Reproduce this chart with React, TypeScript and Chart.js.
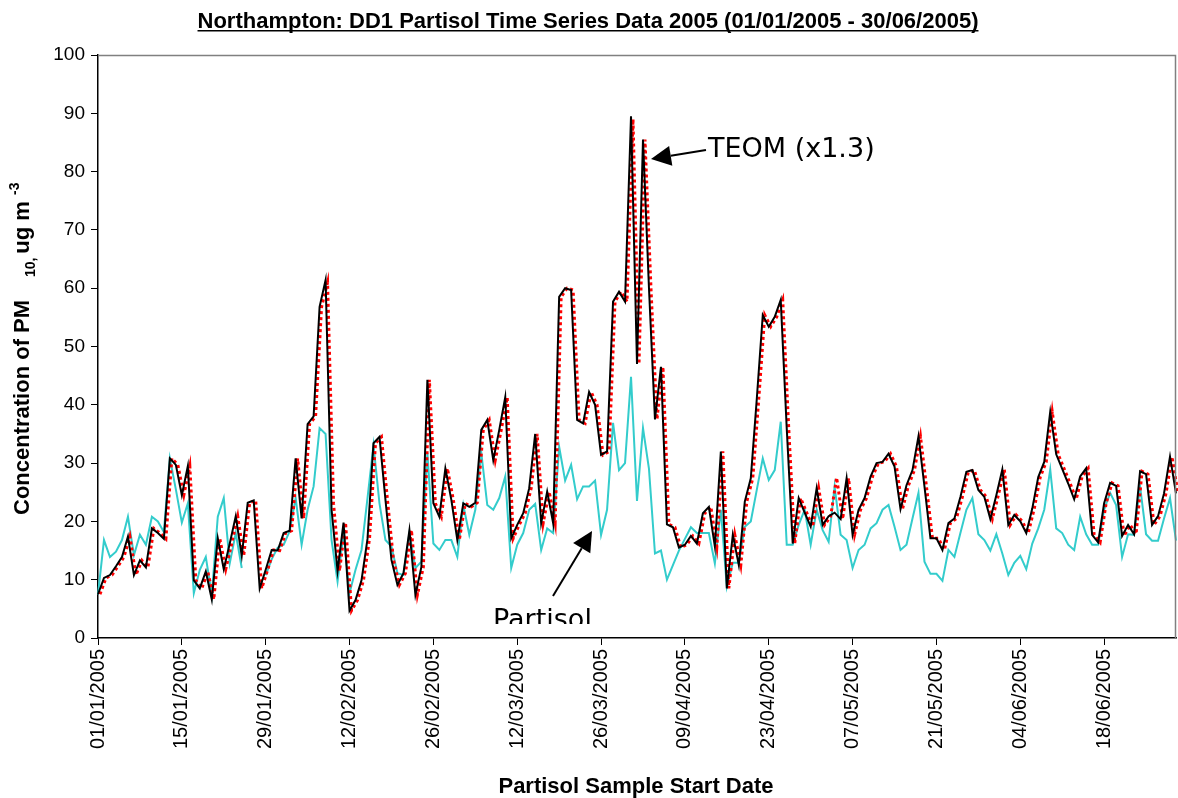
import React, { useEffect, useRef } from "react";
import { Chart, registerables } from "chart.js";

Chart.register(...registerables);

const W = 1178;
const H = 798;

const TITLE = "Northampton: DD1 Partisol Time Series Data 2005 (01/01/2005 - 30/06/2005)";
const X_TITLE = "Partisol Sample Start Date";

const START_DAY = "2005-01-01";
const DAY_COUNT = 181;

const tickLabels = [
  "01/01/2005", "15/01/2005", "29/01/2005", "12/02/2005", "26/02/2005",
  "12/03/2005", "26/03/2005", "09/04/2005", "23/04/2005", "07/05/2005",
  "21/05/2005", "04/06/2005", "18/06/2005",
];

const yTicks = [0, 10, 20, 30, 40, 50, 60, 70, 80, 90, 100];

// TEOM (x1.3) - black solid
const teom = [
  7.5, 10.3, 10.8, 12.3, 13.9, 17.4, 10.8, 13.3, 12.1, 18.8,
  18.0, 17.0, 30.8, 29.7, 24.5, 29.5, 9.9, 8.5, 11.4, 6.6,
  17.1, 11.8, 16.2, 20.9, 14.1, 23.2, 23.6, 8.5, 11.7, 15.1,
  15.0, 18.0, 18.4, 30.8, 20.5, 36.7, 38.0, 56.8, 61.4, 22.0,
  11.5, 19.8, 4.7, 6.5, 9.9, 17.0, 33.4, 34.5, 23.7, 13.4,
  9.1, 11.1, 18.5, 7.4, 12.2, 44.3, 23.1, 20.8, 29.1, 23.7,
  16.8, 23.1, 22.5, 23.2, 35.7, 37.4, 30.5, 35.7, 41.3, 17.1,
  19.4, 21.4, 25.7, 35.0, 19.7, 25.1, 19.7, 58.5, 60.0, 59.7,
  37.4, 36.8, 42.2, 40.0, 31.4, 32.0, 57.7, 59.4, 57.7, 89.5,
  47.0, 85.5, 60.0, 37.5, 46.5, 19.5, 19.0, 15.5, 16.0, 17.5,
  16.2, 21.4, 22.5, 15.7, 32.0, 8.5, 17.7, 12.5, 23.4, 27.4,
  41.0, 55.4, 53.4, 55.1, 58.0, 36.0, 16.2, 24.0, 21.5, 19.1,
  25.7, 19.4, 20.9, 21.5, 20.4, 27.4, 17.7, 22.0, 24.0, 27.7,
  30.0, 30.2, 31.6, 29.4, 22.1, 26.2, 28.8, 34.6, 26.0, 17.1,
  17.1, 15.1, 19.7, 20.5, 24.2, 28.5, 28.8, 25.4, 24.2, 20.4,
  24.5, 28.9, 19.4, 21.1, 20.0, 18.0, 22.2, 27.6, 30.2, 38.8,
  31.5, 29.0, 26.5, 23.8, 27.7, 29.1, 17.7, 16.4, 23.1, 26.6,
  26.1, 17.5, 19.4, 17.8, 28.6, 28.1, 19.4, 20.9, 24.8, 31.1,
  24.8,
];

// second TEOM trace - red dotted
const teomAlt = [
  7.5, 10.3, 10.8, 12.3, 13.9, 17.4, 10.8, 13.3, 12.1, 18.8,
  18.0, 17.0, 30.8, 29.7, 24.5, 29.5, 9.9, 8.5, 11.4, 6.6,
  17.1, 11.8, 16.2, 20.9, 14.1, 23.2, 23.6, 8.5, 11.7, 15.1,
  15.0, 18.0, 18.4, 30.8, 20.5, 36.7, 38.0, 56.8, 61.0, 23.0,
  11.5, 19.8, 4.7, 6.5, 9.9, 17.0, 33.4, 34.5, 23.7, 13.4,
  9.1, 11.1, 18.5, 7.4, 12.2, 44.3, 23.1, 20.8, 29.1, 23.7,
  16.8, 23.1, 22.5, 23.2, 35.7, 37.4, 30.5, 35.7, 41.3, 17.1,
  19.4, 21.4, 25.7, 35.0, 19.7, 25.1, 19.7, 58.5, 60.0, 59.7,
  37.4, 36.8, 42.2, 40.0, 31.4, 32.0, 57.7, 59.4, 57.7, 89.0,
  47.0, 85.5, 60.0, 37.5, 46.5, 19.5, 19.0, 15.5, 16.0, 17.5,
  16.2, 21.4, 22.5, 15.7, 32.0, 8.5, 17.7, 12.5, 23.4, 27.4,
  41.0, 55.4, 53.4, 55.1, 58.0, 36.0, 16.2, 24.0, 21.5, 19.1,
  25.7, 19.4, 20.9, 27.5, 20.4, 27.4, 17.7, 22.0, 24.0, 27.7,
  30.0, 30.2, 31.6, 29.4, 22.1, 26.2, 28.8, 34.6, 26.0, 17.1,
  17.1, 15.1, 19.7, 20.5, 24.2, 28.5, 28.8, 25.4, 24.2, 20.4,
  24.5, 28.9, 19.4, 21.1, 20.0, 18.0, 22.2, 27.6, 30.2, 38.8,
  31.5, 29.0, 26.5, 23.8, 27.7, 29.1, 17.7, 16.4, 23.1, 26.6,
  26.1, 17.5, 19.4, 17.8, 28.6, 28.1, 19.4, 20.9, 24.8, 31.1,
  24.8,
];

// Partisol - cyan
const partisol = [
  7.5, 16.8, 13.9, 14.8, 16.8, 20.8, 14.2, 17.7, 16.0, 20.8,
  20.0, 18.2, 30.8, 25.5, 19.8, 23.1, 7.7, 11.7, 13.9, 7.4,
  20.8, 24.0, 12.8, 18.0, 12.0, null, null, null, 10.8, 13.5,
  15.5, 16.0, 18.3, 24.0, 16.0, 22.0, 26.0, 36.0, 35.0, 16.8,
  9.7, 18.0, 7.7, 11.7, 15.1, 24.0, 33.1, 23.1, 16.8, 15.7,
  11.1, 10.8, 18.0, 12.0, 13.1, 31.7, 16.2, 15.1, 16.8, 16.8,
  13.9, 22.8, 17.7, 22.0, 31.8, 22.8, 22.0, 24.0, 27.7, 12.0,
  16.0, 18.0, 22.0, 23.0, 15.1, 18.8, 18.0, 32.8, 27.0, 29.7,
  23.8, 26.0, 26.0, 27.0, 17.7, 22.0, 36.9, 28.8, 30.0, 44.8,
  23.5, 36.0, 29.0, 14.5, 15.0, 10.0, 12.5, 15.0, 17.0, 19.0,
  18.0, 18.0, 18.0, 12.8, 22.0, 8.8, 12.9, 12.9, 19.1, 20.0,
  25.4, 30.8, 27.1, 28.8, 37.1, 16.0, 16.0, 19.4, 22.0, 16.0,
  22.0, 18.5, 16.5, 26.0, 17.7, 16.8, 12.0, 15.1, 16.0, 18.8,
  19.7, 22.0, 22.8, 19.1, 15.1, 16.0, 20.5, 24.9, 13.1, 11.0,
  11.0, 9.8, 15.1, 13.9, 18.0, 22.0, 24.0, 17.8, 16.8, 15.0,
  17.8, 14.5, 10.8, 12.9, 14.1, 11.8, 16.2, 18.8, 22.0, 28.9,
  18.8, 18.0, 16.0, 15.1, 20.8, 17.8, 16.0, 16.0, 22.0, 24.9,
  22.8, 13.9, 17.8, 17.7, 26.0, 17.8, 16.7, 16.7, 20.5, 24.0,
  16.7,
];

function pad2(n: number) {
  return n < 10 ? "0" + n : String(n);
}

function buildCategories(): string[] {
  const out: string[] = [];
  const base = new Date(START_DAY + "T00:00:00Z");
  for (let i = 0; i < DAY_COUNT; i++) {
    const d = new Date(base.getTime() + i * 86400000);
    out.push(pad2(d.getUTCDate()) + "/" + pad2(d.getUTCMonth() + 1) + "/" + d.getUTCFullYear());
  }
  return out;
}

const categories = buildCategories();
const tickSet = new Set(tickLabels);

const SANS = '"Liberation Sans", Arial, Helvetica, sans-serif';
const ANNO = '"DejaVu Sans", Verdana, sans-serif';

function drawArrow(ctx: CanvasRenderingContext2D, x1: number, y1: number, x2: number, y2: number, headLen: number, headHalf: number) {
  const ang = Math.atan2(y2 - y1, x2 - x1);
  const bx = x2 - headLen * Math.cos(ang);
  const by = y2 - headLen * Math.sin(ang);
  ctx.beginPath();
  ctx.moveTo(x1, y1);
  ctx.lineTo(bx, by);
  ctx.lineWidth = 2;
  ctx.strokeStyle = "#000";
  ctx.stroke();
  ctx.beginPath();
  ctx.moveTo(x2, y2);
  ctx.lineTo(bx + headHalf * Math.sin(ang), by - headHalf * Math.cos(ang));
  ctx.lineTo(bx - headHalf * Math.sin(ang), by + headHalf * Math.cos(ang));
  ctx.closePath();
  ctx.fillStyle = "#000";
  ctx.fill();
}

// the red trace sits a hair to the right of the black one in the original
const lagPlugin = {
  id: "lag",
  beforeDatasetDraw(chart: any, args: any) {
    if (args.index === 1) {
      chart.ctx.save();
      chart.ctx.translate(2, 0);
    }
  },
  afterDatasetDraw(chart: any, args: any) {
    if (args.index === 1) chart.ctx.restore();
  },
};

const decorPlugin = {
  id: "decor",
  afterDraw(chart: any) {
    const ctx: CanvasRenderingContext2D = chart.ctx;
    const { left, right, top, bottom } = chart.chartArea;
    ctx.save();

    // plot area border (top / right)
    ctx.strokeStyle = "#808080";
    ctx.lineWidth = 1.5;
    ctx.beginPath();
    ctx.moveTo(left, top + 0.5);
    ctx.lineTo(right - 0.5, top + 0.5);
    ctx.lineTo(right - 0.5, bottom);
    ctx.stroke();

    // title, underlined
    ctx.fillStyle = "#000";
    ctx.font = "bold 22px " + SANS;
    ctx.textAlign = "center";
    ctx.textBaseline = "alphabetic";
    const tx = 588;
    const ty = 28;
    ctx.fillText(TITLE, tx, ty);
    const tw = ctx.measureText(TITLE).width;
    ctx.fillRect(tx - tw / 2, ty + 2, tw, 1.5);

    // x axis title
    ctx.font = "bold 22px " + SANS;
    ctx.fillText(X_TITLE, 636, 793);

    // y axis title with sub/superscript
    ctx.save();
    ctx.translate(29, 0);
    ctx.rotate(-Math.PI / 2);
    ctx.textAlign = "left";
    let pos = -515;
    ctx.font = "bold 22px " + SANS;
    ctx.fillText("Concentration of PM", pos, 0);
    pos = -277;
    ctx.font = "bold 14px " + SANS;
    ctx.fillText("10,", pos, 6);
    pos += ctx.measureText("10, ").width;
    ctx.font = "bold 22px " + SANS;
    ctx.fillText("ug m", pos, 0);
    pos += ctx.measureText("ug m ").width;
    ctx.font = "bold 14px " + SANS;
    ctx.fillText("-3", pos, -10);
    ctx.restore();

    // TEOM annotation
    ctx.font = "27px " + ANNO;
    ctx.textAlign = "left";
    ctx.fillStyle = "#000";
    ctx.fillText("TEOM (x1.3)", 708, 157);
    drawArrow(ctx, 706, 150, 651, 159, 20, 10);

    // Partisol annotation (clipped at the bottom)
    ctx.save();
    ctx.beginPath();
    ctx.rect(0, 0, W, 624);
    ctx.clip();
    ctx.font = "27px " + ANNO;
    ctx.fillText("Partisol", 493, 628);
    ctx.restore();
    drawArrow(ctx, 553, 596, 592, 531, 20, 10);

    ctx.restore();
  },
};

export default function App() {
  const canvasRef = useRef<HTMLCanvasElement | null>(null);

  useEffect(() => {
    document.body.style.margin = "0";
    const canvas = canvasRef.current;
    if (!canvas) return;
    const chart = new Chart(canvas, {
      type: "line",
      data: {
        labels: categories,
        datasets: [
          {
            label: "TEOM (x1.3)",
            data: teom,
            borderColor: "#000000",
            borderWidth: 2,
            pointRadius: 0,
            tension: 0,
            spanGaps: false,
          },
          {
            label: "TEOM (alt)",
            data: teomAlt,
            borderColor: "#FF0000",
            borderWidth: 3,
            borderDash: [3, 3],
            pointRadius: 0,
            tension: 0,
            spanGaps: false,
          },
          {
            label: "Partisol",
            data: partisol,
            borderColor: "#33CCCC",
            borderWidth: 2,
            pointRadius: 0,
            tension: 0,
            spanGaps: false,
          },
        ],
      },
      options: {
        animation: false,
        responsive: false,
        maintainAspectRatio: false,
        devicePixelRatio: 1,
        layout: { padding: { left: 0, right: 2, top: 55, bottom: 0 } },
        plugins: {
          legend: { display: false },
          tooltip: { enabled: false },
          title: { display: false },
        },
        scales: {
          x: {
            type: "category",
            offset: false,
            grid: {
              drawOnChartArea: false,
              drawTicks: true,
              tickLength: 7,
              color: "#000",
              lineWidth: 1,
            },
            border: { color: "#000", width: 1.5 },
            ticks: {
              autoSkip: false,
              maxRotation: 90,
              minRotation: 90,
              padding: 4,
              color: "#000",
              font: { family: SANS, size: 20 },
              callback: (_v: any, i: number) => (tickSet.has(categories[i]) ? categories[i] : null),
            },
            afterFit: (s: any) => {
              s.height = 160;
              s.paddingLeft = 0;
              s.paddingRight = 0;
            },
          },
          y: {
            min: 0,
            max: 100,
            afterBuildTicks: (s: any) => {
              s.ticks = yTicks.map((v) => ({ value: v }));
            },
            ticks: {
              padding: 6,
              color: "#000",
              font: { family: SANS, size: 19 },
            },
            grid: {
              drawOnChartArea: false,
              drawTicks: true,
              tickLength: 7,
              color: "#000",
            },
            border: { color: "#000", width: 1.5 },
            afterFit: (s: any) => {
              s.width = 98;
            },
          },
        },
      },
      plugins: [lagPlugin, decorPlugin],
    });
    return () => chart.destroy();
  }, []);

  return (
    <div style={{ position: "absolute", left: 0, top: 0, width: W, height: H, background: "#fff" }}>
      <canvas ref={canvasRef} width={W} height={H} style={{ width: W, height: H, display: "block" }} />
    </div>
  );
}
